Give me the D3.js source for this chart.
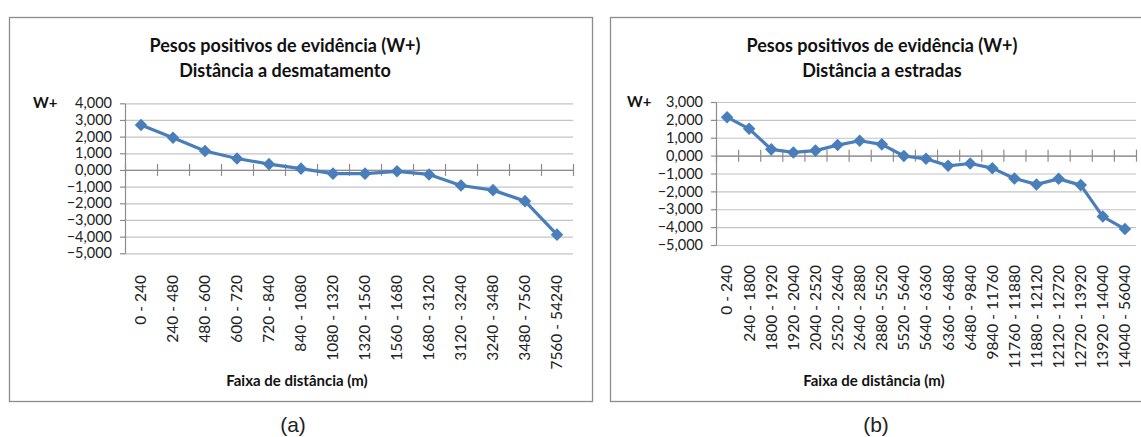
<!DOCTYPE html>
<html>
<head>
<meta charset="utf-8">
<script src="https://cdn.jsdelivr.net/npm/d3@7"></script>
<style>
  body { margin: 0; background: #fff; }
  svg { display: block; }
</style>
</head>
<body>
<svg id="chart"></svg>
<script>
// dados
const faixasDesmat = ['0 - 240', '240 - 480', '480 - 600', '600 - 720', '720 - 840', '840 - 1080',
  '1080 - 1320', '1320 - 1560', '1560 - 1680', '1680 - 3120', '3120 - 3240', '3240 - 3480',
  '3480 - 7560', '7560 - 54240'];
const wDesmat = [2.70, 1.93, 1.14, 0.69, 0.35, 0.08, -0.22, -0.22, -0.08, -0.27, -0.93, -1.21, -1.87, -3.88];

const faixasEstradas = ['0 - 240', '240 - 1800', '1800 - 1920', '1920 - 2040', '2040 - 2520', '2520 - 2640',
  '2640 - 2880', '2880 - 5520', '5520 - 5640', '5640 - 6360', '6360 - 6480', '6480 - 9840',
  '9840 - 11760', '11760 - 11880', '11880 - 12120', '12120 - 12720', '12720 - 13920',
  '13920 - 14040', '14040 - 56040'];
const wEstradas = [2.15, 1.50, 0.35, 0.18, 0.28, 0.59, 0.83, 0.63, -0.02, -0.18, -0.57, -0.44, -0.70,
  -1.28, -1.61, -1.30, -1.65, -3.41, -4.11];

const ticksDesmat = [4, 3, 2, 1, 0, -1, -2, -3, -4, -5];
const ticksEstradas = [3, 2, 1, 0, -1, -2, -3, -4, -5];

const width = 1141;
const height = 437;

const svg = d3.select('#chart')
  .attr('width', width)
  .attr('height', height);

const fmt = d => d3.format('.3f')(d).replace('.', ',');

const blue = '#4a7ebb';
const font = 'Lato';

let drawPanel = (p) => {
  const g = svg.append('g');

  // moldura
  g.append('rect')
    .attr('x', p.box[0] + 0.5).attr('y', p.box[1] + 0.5)
    .attr('width', p.box[2]).attr('height', p.box[3])
    .attr('fill', 'none').attr('stroke', '#8c8c8c').attr('stroke-width', 1.3);

  // título
  g.append('text')
    .attr('x', p.titleX).attr('y', 52)
    .attr('text-anchor', 'middle')
    .style('font', 'bold 18px ' + font)
    .attr('fill', '#111')
    .text('Pesos positivos de evidência (W+)');
  g.append('text')
    .attr('x', p.titleX).attr('y', 77)
    .attr('text-anchor', 'middle')
    .style('font', 'bold 18px ' + font)
    .attr('fill', '#111')
    .text(p.subtitle);

  const x = d3.scaleBand()
    .domain(p.cats)
    .range([p.left, p.right]);

  const xIdx = d3.scaleLinear()
    .domain([0, p.cats.length])
    .range([p.left, p.right]);

  const y = d3.scaleLinear()
    .domain([d3.min(p.ticks), d3.max(p.ticks)])
    .range([p.bottom, p.top]);

  // linhas de grade
  g.append('g')
    .attr('transform', 'translate(' + p.left + ',0)')
    .call(d3.axisLeft(y).tickValues(p.ticks).tickSize(-(p.right - p.left)).tickFormat(''))
    .call(a => a.select('.domain').remove())
    .call(a => a.selectAll('.tick line').attr('stroke', '#c4c4c4').attr('stroke-width', 1.2));

  // eixo y
  g.append('g')
    .attr('transform', 'translate(' + p.left + ',0)')
    .call(d3.axisLeft(y).tickValues(p.ticks).tickSize(5).tickSizeOuter(0).tickPadding(8).tickFormat(fmt))
    .call(a => a.select('.domain').attr('stroke', '#8c8c8c').attr('stroke-width', 1.2))
    .call(a => a.selectAll('.tick line').attr('stroke', '#8c8c8c').attr('stroke-width', 1.2))
    .call(a => a.selectAll('text')
      .style('font', '14.5px ' + font).attr('fill', '#222'));

  // rótulo W+
  g.append('text')
    .attr('x', p.wx).attr('y', y(d3.max(p.ticks)))
    .attr('dy', '0.32em')
    .style('font', 'bold 15px ' + font)
    .attr('fill', '#111')
    .text('W+');

  // eixo x no zero, com marcas cruzadas
  g.append('g')
    .attr('transform', 'translate(0,' + y(0) + ')')
    .call(d3.axisBottom(xIdx).ticks(p.cats.length).tickSize(6).tickSizeOuter(0).tickFormat(''))
    .call(a => a.select('.domain').attr('stroke', '#8c8c8c').attr('stroke-width', 1.2))
    .call(a => a.selectAll('.tick line').attr('y1', -6).attr('stroke', '#8c8c8c').attr('stroke-width', 1.2));

  // rótulos das categorias, verticais
  g.append('g')
    .selectAll('text')
    .data(p.cats)
    .enter()
    .append('text')
    .attr('transform', d => 'translate(' + (x(d) + x.bandwidth() / 2) + ',' + p.labelTop + ') rotate(-90)')
    .attr('text-anchor', 'end')
    .attr('dy', '0.35em')
    .style('font', '15.5px ' + font)
    .attr('fill', '#222')
    .text(d => d);

  // linha da série
  const line = d3.line()
    .x((d, i) => x(p.cats[i]) + x.bandwidth() / 2)
    .y(d => y(d));

  g.append('path')
    .datum(p.values)
    .attr('d', line)
    .attr('fill', 'none')
    .attr('stroke', blue)
    .attr('stroke-width', 3.2)
    .attr('stroke-linejoin', 'round');

  g.append('g')
    .selectAll('path')
    .data(p.values)
    .enter()
    .append('path')
    .attr('d', d3.symbol(d3.symbolDiamond2, 100))
    .attr('transform', (d, i) => 'translate(' + (x(p.cats[i]) + x.bandwidth() / 2) + ',' + y(d) + ')')
    .attr('fill', blue);

  // título do eixo x
  g.append('text')
    .attr('x', p.axisTitleX).attr('y', 386)
    .attr('text-anchor', 'middle')
    .style('font', 'bold 15px ' + font)
    .attr('fill', '#111')
    .text('Faixa de distância (m)');

  // legenda (a) / (b)
  g.append('text')
    .attr('x', p.captionX).attr('y', 432)
    .attr('text-anchor', 'middle')
    .style('font', '21px "Liberation Sans"')
    .attr('fill', '#222')
    .text(p.caption);
}

drawPanel({
  box: [9, 17, 583, 384],
  left: 125, right: 573, top: 103.3, bottom: 253.3,
  cats: faixasDesmat, values: wDesmat, ticks: ticksDesmat,
  subtitle: 'Distância a desmatamento',
  titleX: 285, wx: 33, labelTop: 275, axisTitleX: 297,
  caption: '(a)', captionX: 293
});

drawPanel({
  box: [610, 17, 545, 384],
  left: 716, right: 1136, top: 102, bottom: 245,
  cats: faixasEstradas, values: wEstradas, ticks: ticksEstradas,
  subtitle: 'Distância a estradas',
  titleX: 882, wx: 627, labelTop: 265, axisTitleX: 874,
  caption: '(b)', captionX: 876
});
</script>
</body>
</html>
